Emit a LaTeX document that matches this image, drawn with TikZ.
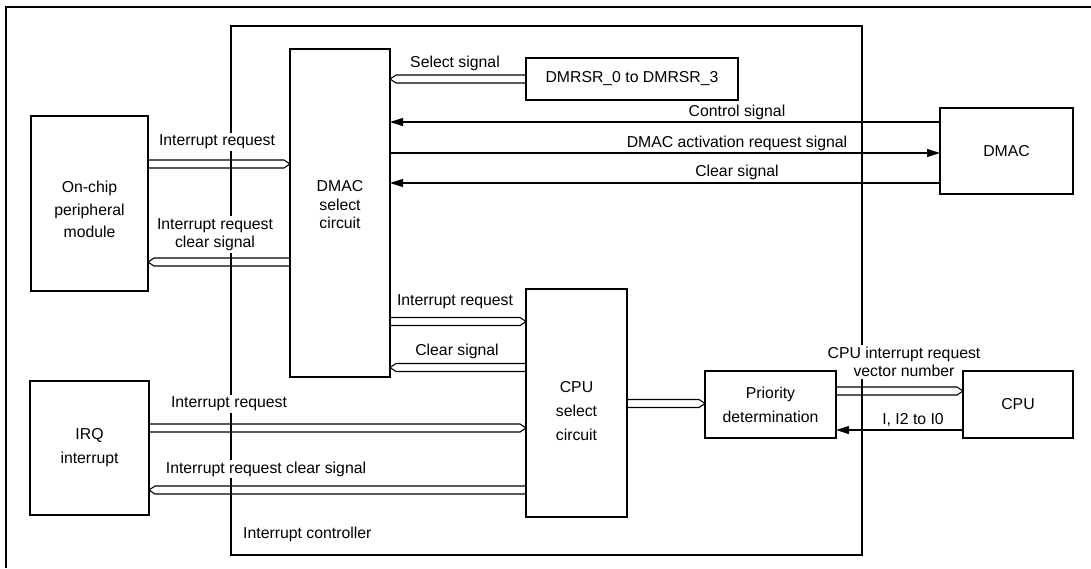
\documentclass[tikz,border=0pt]{standalone}
\usepackage{fontspec}
\setmainfont{Liberation Sans}
\usetikzlibrary{arrows.meta,calc}
\newcommand{\lbl}{\fontsize{15.8}{19}\selectfont}
\newcommand{\lblw}{\fontsize{15.8}{24}\selectfont}
\newcommand{\lbln}{\fontsize{15.8}{18.5}\selectfont}
\newcommand{\busarr}[2]{%
  \draw[busline] let \p1=(#1), \p2=(#2), \n1={sign(\x2-\x1)*6} in
    (\x1,{\y1+4pt}) -- ({\x2-(\n1)},{\y1+4pt}) -- (\x2,\y1) -- ({\x2-(\n1)},{\y1-4pt}) -- (\x1,{\y1-4pt});}
\tikzset{
  box/.style={draw, line width=2pt, outer sep=0pt, inner sep=0pt, align=center, font=\lbl},
  lab/.style={font=\lbl, inner sep=2pt, align=center},
  wlab/.style={lab, fill=white},
  busline/.style={line width=1.1pt, line join=miter},
  sig/.style={line width=1.1pt, -{Triangle[length=13pt,width=8pt]}},
}
\begin{document}
\begin{tikzpicture}[x=1pt,y=-1pt]
\useasboundingbox (0,0) rectangle (1091,568);
% outer frame
\draw[line width=2.4pt] (6,568) -- (6,7) -- (1091,7);
% interrupt controller
\node[box, minimum width=631, minimum height=529] (ctrl) at (546.5,290.5) {};
\node[lab, anchor=west] (ctrllab) at (241,534) {Interrupt controller};
% labels that break the controller border
\node[wlab] (l1) at (217,142) {Interrupt request};
\node[wlab, font=\lbln] (l2) at (215,234.5) {Interrupt request\\clear signal};
\node[wlab] (l9) at (229,404) {Interrupt request};
\node[wlab] (l10) at (266,469) {Interrupt request clear signal};
\node[wlab, font=\lbln] (l11) at (904,362) {CPU interrupt request\\vector number};
% other labels
\node[lab] (l3) at (455,63) {Select signal};
\node[lab] (l4) at (737,112) {Control signal};
\node[lab] (l5) at (737,143) {DMAC activation request signal};
\node[lab] (l6) at (737,172) {Clear signal};
\node[lab] (l7) at (455,302) {Interrupt request};
\node[lab] (l8) at (457,351) {Clear signal};
\node[lab] (l12) at (913,420) {I, I2 to I0};
% boxes
\node[box, minimum width=117, minimum height=175] (per) at (89.5,203.5) {};
\node[lab, font=\fontsize{15.8}{22.5}\selectfont] (pertxt) at (89.5,209.5) {On-chip\\peripheral\\module};
\node[box, minimum width=100, minimum height=328] (dsel) at (340,213) {};
\node[lab, font=\lbln] (dseltxt) at (340,205) {DMAC\\select\\circuit};
\node[box, minimum width=212, minimum height=42] (dmrsr) at (632,79) {DMRSR\_0 to DMRSR\_3};
\node[box, minimum width=133, minimum height=86] (dmac) at (1006.5,151) {DMAC};
\node[box, minimum width=101, minimum height=228] (csel) at (576.5,403) {};
\node[lab, font=\lblw] (cseltxt) at (576.5,411) {CPU\\select\\circuit};
\node[box, minimum width=131, minimum height=67, font=\lblw] (prio) at (770.5,404.5) {Priority\\determination};
\node[box, minimum width=110, minimum height=67] (cpu) at (1018,404.5) {CPU};
\node[box, minimum width=119, minimum height=134, font=\lblw] (irq) at (89.5,448) {IRQ\\interrupt};
% bus arrows
\busarr{per.east |- 0,164}{dsel.west |- 0,164}
\busarr{dsel.west |- 0,262}{per.east |- 0,262}
\busarr{dmrsr.west |- 0,79}{dsel.east |- 0,79}
\busarr{dsel.east |- 0,321.5}{csel.west |- 0,321.5}
\busarr{csel.west |- 0,367.5}{dsel.east |- 0,367.5}
\busarr{irq.east |- 0,428}{csel.west |- 0,428}
\busarr{csel.west |- 0,490}{irq.east |- 0,490}
\busarr{csel.east |- 0,403.5}{prio.west |- 0,403.5}
\busarr{prio.east |- 0,391}{cpu.west |- 0,391}
% single signal arrows
\draw[sig] (dmac.west |- 0,122) -- (dsel.east |- 0,122);
\draw[sig] (dsel.east |- 0,153) -- (dmac.west |- 0,153);
\draw[sig] (dmac.west |- 0,183) -- (dsel.east |- 0,183);
\draw[sig] (cpu.west |- 0,430) -- (prio.east |- 0,430);
\end{tikzpicture}
\end{document}
